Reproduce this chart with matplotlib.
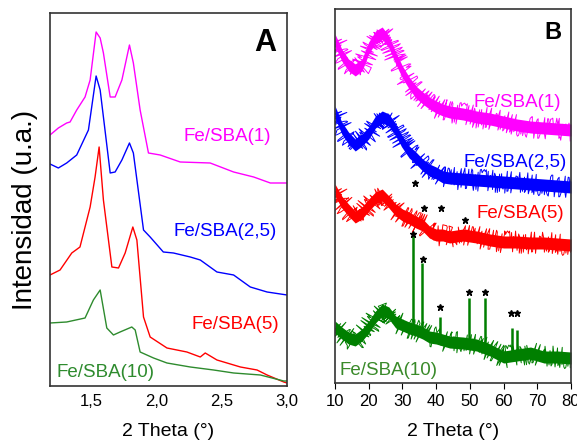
import matplotlib
matplotlib.use("Agg")
import matplotlib.pyplot as plt
import numpy as np

plt.rcParams['font.family'] = ['Liberation Sans', 'DejaVu Sans']

# ---- panel A : small angle ----
a_mag_x = [1.18, 1.244, 1.308, 1.334, 1.385, 1.449, 1.488, 1.534, 1.565, 1.59, 1.642, 1.68, 1.732, 1.79, 1.82, 1.872, 1.936, 2.026, 2.18, 2.41, 2.59, 2.744, 2.872, 3.0]
a_mag_y = [251, 258, 263, 264, 276, 289, 306, 354, 348, 333, 289, 289, 306, 341, 323, 276, 233, 231, 224, 223, 214, 209, 203, 203]
a_blu_x = [1.18, 1.244, 1.308, 1.385, 1.475, 1.534, 1.565, 1.642, 1.68, 1.732, 1.79, 1.82, 1.898, 1.949, 2.05, 2.128, 2.257, 2.334, 2.462, 2.59, 2.718, 2.847, 3.0]
a_blu_y = [222, 218, 223, 231, 256, 310, 296, 213, 214, 226, 243, 233, 156, 149, 134, 133, 129, 126, 114, 111, 99, 94, 91]
a_red_x = [1.18, 1.257, 1.347, 1.41, 1.488, 1.526, 1.557, 1.59, 1.655, 1.706, 1.757, 1.816, 1.847, 1.898, 1.949, 2.078, 2.231, 2.334, 2.372, 2.462, 2.642, 2.77, 2.847, 2.975, 3.0]
a_red_y = [111, 116, 133, 139, 179, 209, 239, 186, 119, 118, 133, 159, 146, 69, 49, 38, 34, 29, 33, 26, 19, 16, 11, 4, 3]
a_grn_x = [1.18, 1.308, 1.449, 1.513, 1.565, 1.616, 1.667, 1.718, 1.808, 1.834, 1.872, 1.975, 2.078, 2.257, 2.436, 2.59, 2.795, 2.975, 3.0]
a_grn_y = [63, 64, 68, 86, 96, 58, 51, 54, 59, 56, 34, 28, 23, 19, 16, 13, 11, 5, 5]
a_ticks = [1.5, 2.0, 2.5, 3.0]
a_ticklabels = ['1,5', '2,0', '2,5', '3,0']

# ---- panel B : wide angle (centre of the noisy trace) ----
b_x = [10, 12, 14, 16, 18, 20, 22, 24, 26, 28, 30, 32, 34, 36, 38, 40, 42, 44, 48, 52, 56, 60, 64, 68, 72, 76, 80]
b_mag = [343, 328, 318, 313, 318, 335, 346, 350, 341, 325, 311, 300, 291, 285, 280, 276, 273, 271, 269, 266, 264, 261, 258, 256, 255, 254, 253]
b_blu = [271, 255, 245, 238, 243, 250, 261, 266, 263, 253, 241, 231, 225, 218, 213, 210, 206, 205, 204, 203, 202, 201, 200, 199, 198, 197, 196]
b_red = [193, 181, 173, 166, 170, 178, 185, 188, 181, 173, 168, 165, 161, 158, 151, 148, 148, 146, 148, 146, 143, 141, 141, 140, 140, 139, 138]
b_grn = [56, 50, 45, 43, 48, 56, 66, 73, 70, 61, 58, 55, 53, 50, 46, 45, 43, 41, 40, 38, 33, 26, 28, 30, 26, 26, 25]
# sharp reflections of the Fe/SBA(10) sample
peak_x = [33.1, 35.9, 41.2, 49.8, 54.5, 62.4, 64.1]
peak_top = [148, 120, 66, 85, 85, 55, 53]
peak_base = [55, 52, 44, 40, 38, 28, 28]
# asterisks
red_star_x = [33.7, 36.4, 41.5, 48.6]
red_star_y = [200, 175, 175, 163]
grn_star_x = [33.1, 36.1, 41.2, 49.8, 54.5, 62.2, 64.0]
grn_star_y = [149, 124, 76, 91, 91, 70, 70]
b_ticks = [10, 20, 30, 40, 50, 60, 70, 80]

labels = ['Fe/SBA(1)', 'Fe/SBA(2,5)', 'Fe/SBA(5)', 'Fe/SBA(10)']
col_a = ['#ff00ff', '#0000ff', '#ff0000', '#2e8b2e']
col_b = ['#ff00ff', '#0000ff', '#ff0000', '#007f00']

fig = plt.figure(figsize=(5.77, 4.45), dpi=100)
axA = fig.add_axes([0.0867, 0.1326, 0.4107, 0.8382])
axB = fig.add_axes([0.5806, 0.1393, 0.4090, 0.8405])

for ax in (axA, axB):
    for s in ax.spines.values():
        s.set_color('#333333')
        s.set_linewidth(1.2)
    ax.set_yticks([])

# panel A
for xs, ys, c in zip([a_mag_x, a_blu_x, a_red_x, a_grn_x], [a_mag_y, a_blu_y, a_red_y, a_grn_y], col_a):
    axA.plot(xs, ys, color=c, lw=1.0)
axA.set_xlim(1.18, 3.0)
axA.set_ylim(0, 373)
axA.set_xticks(a_ticks)
axA.set_xticklabels(a_ticklabels, fontsize=12)
axA.tick_params(axis='x', length=0, pad=6)
axA.set_xlabel('2 Theta (°)', fontsize=14, labelpad=10)
axA.text(2.54, 249, labels[0], color=col_a[0], fontsize=13.5, ha='center', va='center')
axA.text(2.526, 154, labels[1], color=col_a[1], fontsize=13.5, ha='center', va='center')
axA.text(2.603, 61, labels[2], color=col_a[2], fontsize=13.5, ha='center', va='center')
axA.text(1.603, 13, labels[3], color=col_a[3], fontsize=13.5, ha='center', va='center')
axA.text(2.834, 343, 'A', fontsize=22, fontweight='bold', ha='center', va='center')

# panel B : solid core plus a jagged stroke for the counting noise
for ys, c in zip([b_mag, b_blu, b_red, b_grn], col_b):
    ys = np.array(ys)
    axB.fill_between(b_x, ys - 6, ys + 6, color=c, lw=0)
    ln, = axB.plot(b_x, ys, color=c, lw=0.7)
    ln.set_sketch_params(scale=11, length=1, randomness=4)
axB.vlines(peak_x, peak_base, peak_top, color=col_b[3], lw=1.8)
axB.plot(red_star_x, red_star_y, ls='none', marker='*', ms=5, color='black')
axB.plot(grn_star_x, grn_star_y, ls='none', marker='*', ms=5, color='black')
axB.set_xlim(10, 80)
axB.set_ylim(0, 374)
axB.set_xticks(b_ticks)
axB.tick_params(axis='x', labelsize=12, length=4, direction='out', pad=4)
axB.set_xlabel('2 Theta (°)', fontsize=14, labelpad=10)
axB.text(64, 280, labels[0], color=col_b[0], fontsize=13.5, ha='center', va='center')
axB.text(63.4, 220, labels[1], color=col_b[1], fontsize=13.5, ha='center', va='center')
axB.text(64.9, 170, labels[2], color=col_b[2], fontsize=13.5, ha='center', va='center')
axB.text(26, 13, labels[3], color='#3a8a2a', fontsize=13.5, ha='center', va='center')
axB.text(74.7, 350, 'B', fontsize=17, fontweight='bold', ha='center', va='center')

fig.text(25 / 577, 1 - 210 / 445, 'Intensidad (u.a.)', fontsize=20, rotation=90, ha='center', va='center')

fig.savefig('out.png', dpi=100)
